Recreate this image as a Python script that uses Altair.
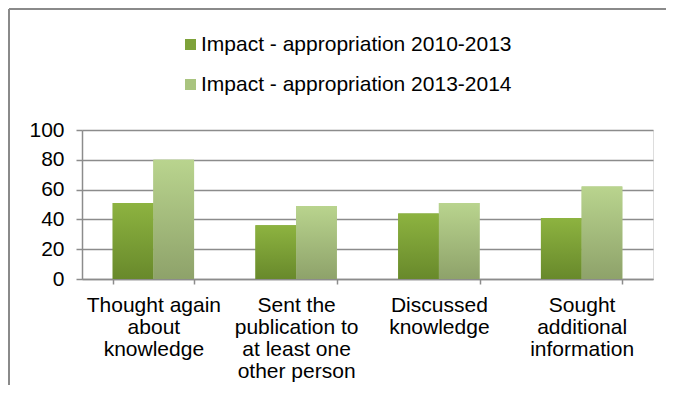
import altair as alt
import pandas as pd

categories = [
    "Thought again\nabout\nknowledge",
    "Sent the\npublication to\nat least one\nother person",
    "Discussed\nknowledge",
    "Sought\nadditional\ninformation",
]
series_names = ["Impact - appropriation 2010-2013", "Impact - appropriation 2013-2014"]
values_2010_2013 = [51, 36, 44, 41]
values_2013_2014 = [80, 49, 51, 62]
y_ticks = [0, 20, 40, 60, 80, 100]

rows = []
for c, a, b in zip(categories, values_2010_2013, values_2013_2014):
    rows.append({"category": c, "series": series_names[0], "value": a})
    rows.append({"category": c, "series": series_names[1], "value": b})
df = pd.DataFrame(rows)

FONT = "Liberation Sans"
GRID = "#8c8c8c"

grad_dark = alt.Gradient(
    gradient="linear", x1=0, x2=0, y1=0, y2=1,
    stops=[alt.GradientStop(color="#8db340", offset=0),
           alt.GradientStop(color="#68892b", offset=1)],
)
grad_light = alt.Gradient(
    gradient="linear", x1=0, x2=0, y1=0, y2=1,
    stops=[alt.GradientStop(color="#b9d48e", offset=0),
           alt.GradientStop(color="#8ea26a", offset=1)],
)

x_enc = alt.X(
    "category:N", sort=categories, title=None,
    scale=alt.Scale(paddingInner=0.43, paddingOuter=0.215),
    axis=alt.Axis(
        labelExpr="split(datum.label, '\\n')",
        labelAngle=0, labelFont=FONT, labelFontSize=21, labelColor="#000000",
        labelLineHeight=22, labelPadding=10, labelBaseline="top",
        tickBand="extent", tickSize=5, tickColor=GRID, tickWidth=1.5,
        domainColor=GRID, domainWidth=1.5, grid=False,
    ),
)
y_enc = alt.Y(
    "value:Q", title=None,
    scale=alt.Scale(domain=[0, 100]),
    axis=alt.Axis(
        values=y_ticks, labelFont=FONT, labelFontSize=21, labelColor="#000000",
        labelPadding=12, tickSize=6, tickColor=GRID, tickWidth=1.5,
        domainColor=GRID, domainWidth=1.5,
        gridColor=GRID, gridWidth=1.5,
    ),
)
xoff = alt.XOffset("series:N", sort=series_names,
                   scale=alt.Scale(domain=series_names, paddingInner=0, paddingOuter=0))

base = alt.Chart(df).mark_bar().encode(
    x=x_enc, y=y_enc, xOffset=xoff,
    color=alt.Color(
        "series:N", sort=series_names,
        scale=alt.Scale(domain=series_names, range=["#7ea23a", "#a9c47f"]),
        legend=alt.Legend(
            title=None, orient="none", direction="vertical",
            legendX=98, legendY=-96, padding=0,
            symbolType="square", symbolSize=121, symbolStrokeWidth=0,
            labelFont=FONT, labelFontSize=21, labelColor="#000000",
            labelOffset=0, rowPadding=18, labelLimit=600,
        ),
    ),
)

dark = alt.Chart(df).transform_filter(
    alt.datum.series == series_names[0]
).mark_bar(color=grad_dark).encode(x=x_enc, y=y_enc, xOffset=xoff)

light = alt.Chart(df).transform_filter(
    alt.datum.series == series_names[1]
).mark_bar(color=grad_light).encode(x=x_enc, y=y_enc, xOffset=xoff)

frame = pd.DataFrame({"a": [0]})
border_left = alt.Chart(frame).mark_rule(color="#8a8a8a", strokeWidth=2).encode(
    x=alt.value(-73), y=alt.value(-121), y2=alt.value(280)
)
border_top = alt.Chart(frame).mark_rule(color="#8a8a8a", strokeWidth=2).encode(
    x=alt.value(-73), x2=alt.value(584), y=alt.value(-121)
)

chart = alt.layer(border_left, border_top, base, dark, light).properties(
    width=571, height=149,
    autosize=alt.AutoSizeParams(type="none"),
    padding={"left": 74, "top": 122, "right": 13, "bottom": 106},
).configure_view(stroke=None).configure(background="white")

chart.save("out.html", embed_options={"renderer": "svg", "actions": False})
